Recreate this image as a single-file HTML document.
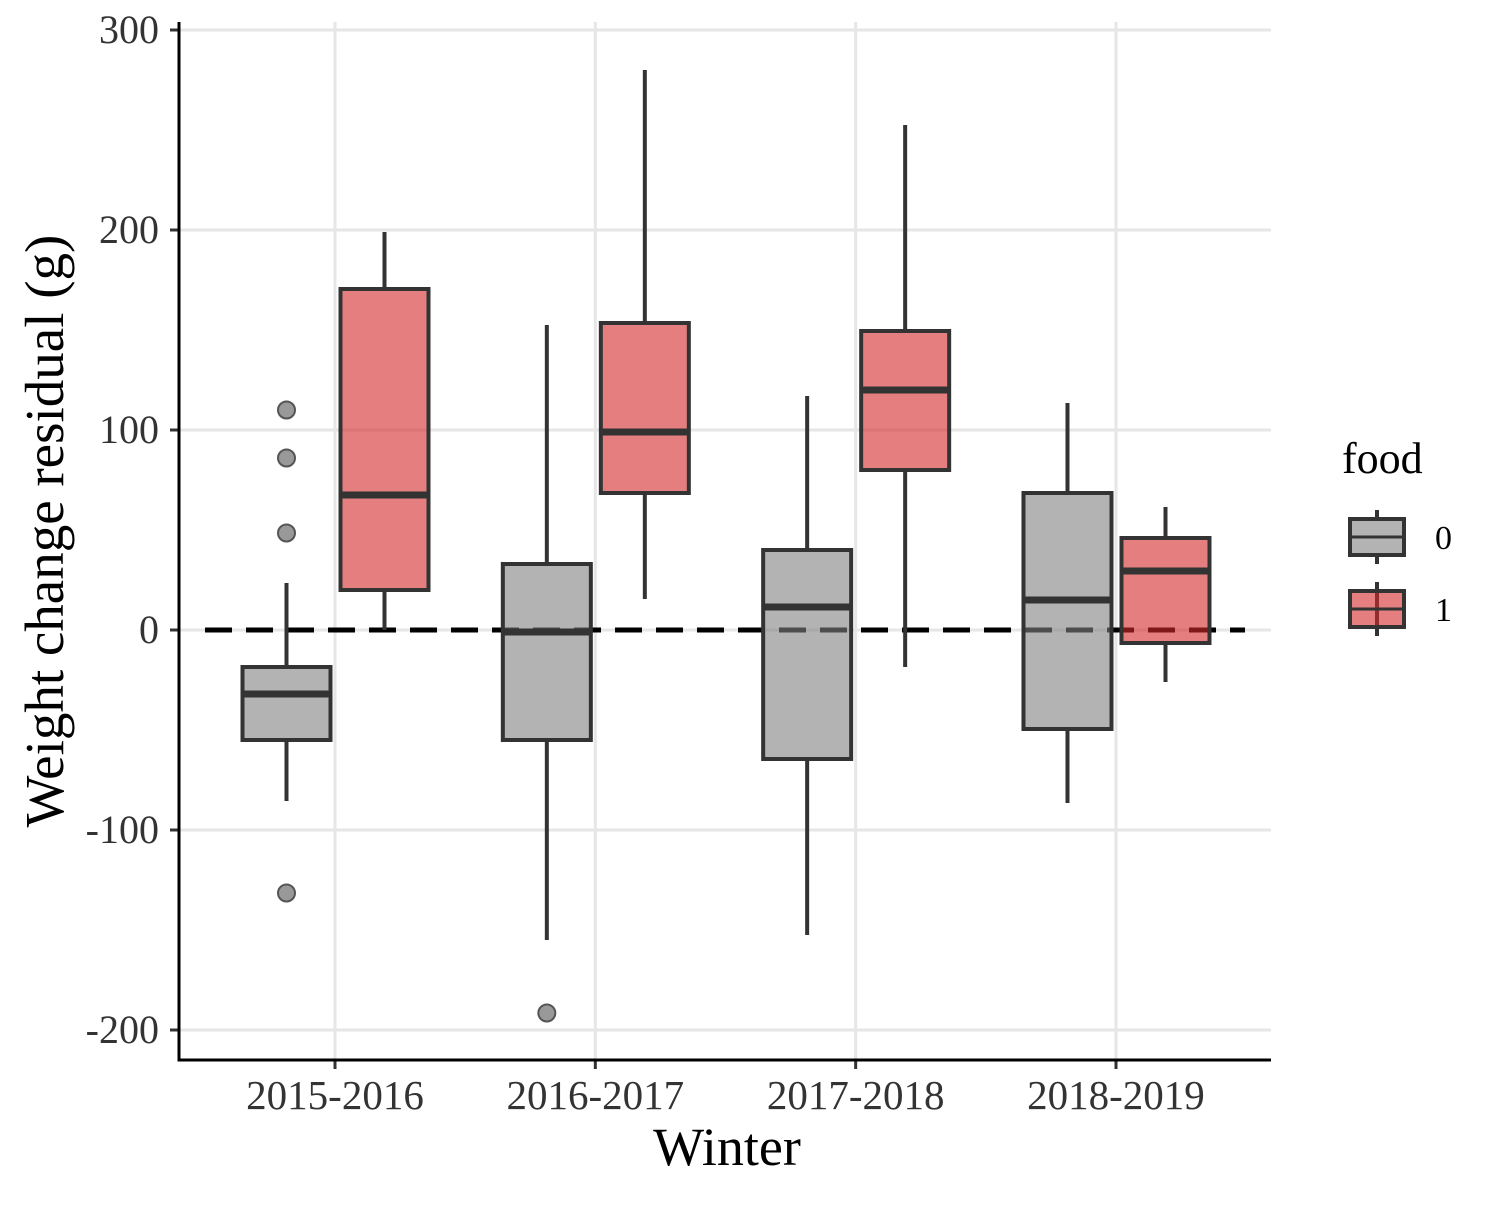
<!DOCTYPE html>
<html><head><meta charset="utf-8"><style>
body{margin:0;background:#fff}
svg text{font-family:"Liberation Serif",serif}
</style></head><body>
<svg id="chart" width="1500" height="1200" viewBox="0 0 1500 1200">
<g id="grid"></g><g id="marks"></g><g id="axes"></g>
<text x="727" y="1165" font-size="54" text-anchor="middle" fill="#000">Winter</text>
<text transform="translate(63,531) rotate(-90)" font-size="55" text-anchor="middle" fill="#000">Weight change residual (g)</text>
<g>
<text x="1342" y="473" font-size="44" fill="#000">food</text>
<g>
<line x1="1377" y1="510" x2="1377" y2="564" stroke="#333" stroke-width="4"/>
<rect x="1350" y="519" width="54" height="36" fill="#808080" stroke="#333" stroke-width="4"/>
<rect x="1350" y="519" width="54" height="36" fill="#fff" fill-opacity="0.4" stroke="#333" stroke-width="4"/>
<line x1="1350" y1="537" x2="1404" y2="537" stroke="#333" stroke-width="3"/>
<text x="1435" y="549" font-size="34" fill="#000">0</text></g>
<g>
<line x1="1377" y1="582" x2="1377" y2="636" stroke="#333" stroke-width="4"/>
<rect x="1350" y="591" width="54" height="36" fill="#d42a2a" fill-opacity="0.6" stroke="#333" stroke-width="4"/>
<line x1="1350" y1="609" x2="1404" y2="609" stroke="#333" stroke-width="3"/>
<text x="1435" y="621" font-size="34" fill="#000">1</text></g>
</g>
</svg>
<script>
const categories=["2015-2016","2016-2017","2017-2018","2018-2019"];
const yTicks=[300,200,100,0,-100,-200];
// [low, q1, median, q3, high]
const food0=[[-85.5,-55,-32,-18.5,23.5],[-155,-55,-1,33,152.5],[-152.5,-64.5,11.5,40,117],[-86.5,-49.5,15,68.5,113.5]];
const food1=[[0,20,67.5,170.5,199],[15.5,68.5,99,153.5,280],[-18.5,80,120,149.5,252.5],[-26,-6.5,29.5,46,61.5]];
const outliers0=[[110,86,48.5,-131.5],[-191.5],[],[]];
const outliers1=[[],[],[],[]];
const NS="http://www.w3.org/2000/svg";
const y=v=>630-2*v;
const x=i=>335+i*260.33;
function mk(p,t,a){const e=document.createElementNS(NS,t);for(const k in a)e.setAttribute(k,a[k]);p.appendChild(e);return e;}
const grid=document.getElementById('grid'),marks=document.getElementById('marks'),axes=document.getElementById('axes');
yTicks.forEach(t=>{const l=mk(grid,'line',{x1:179,x2:1271,y1:y(t),y2:y(t),stroke:'#e6e6e6','stroke-width':3});


const tx=mk(axes,'text',{x:159,y:y(t)+13,'font-size':40,'text-anchor':'end',fill:'#333'});tx.textContent=t;


mk(axes,'line',{x1:170,x2:179,y1:y(t),y2:y(t),stroke:'#333','stroke-width':3});});
categories.forEach((c,i)=>{const l=mk(grid,'line',{x1:x(i),x2:x(i),y1:22,y2:1060,stroke:'#e6e6e6','stroke-width':3});


const tx=mk(axes,'text',{x:x(i),y:1109,'font-size':41,'text-anchor':'middle',fill:'#333'});tx.textContent=c;


mk(axes,'line',{x1:x(i),x2:x(i),y1:1060,y2:1069,stroke:'#333','stroke-width':3});});
const dl=mk(marks,'line',{x1:205,x2:1245,y1:y(0),y2:y(0),stroke:'#000','stroke-width':5,'stroke-dasharray':'27,14'});


function box(d,cx,fill,name,outs){const g=mk(marks,'g',{});


mk(g,'line',{x1:cx,x2:cx,y1:y(d[4]),y2:y(d[3]),stroke:'#333','stroke-width':4});
mk(g,'line',{x1:cx,x2:cx,y1:y(d[1]),y2:y(d[0]),stroke:'#333','stroke-width':4});
mk(g,'rect',{x:cx-44,y:y(d[3]),width:88,height:y(d[1])-y(d[3]),fill:fill,'fill-opacity':0.6,stroke:'#333','stroke-width':4});
mk(g,'line',{x1:cx-44,x2:cx+44,y1:y(d[2]),y2:y(d[2]),stroke:'#333','stroke-width':7});
outs.forEach(o=>{const c=mk(g,'circle',{cx:cx,cy:y(o),r:8.5,fill:'#555','fill-opacity':0.6,stroke:'#555','stroke-width':2});

});}
categories.forEach((c,i)=>{box(food0[i],x(i)-48.5,'#808080','box-food0-'+c,outliers0[i]);box(food1[i],x(i)+49.5,'#d42a2a','box-food1-'+c,outliers1[i]);});
const ya=mk(axes,'line',{x1:179,x2:179,y1:22,y2:1061.5,stroke:'#000','stroke-width':3});


const xa=mk(axes,'line',{x1:177.5,x2:1271,y1:1060,y2:1060,stroke:'#000','stroke-width':3});


</script>
</body></html>
